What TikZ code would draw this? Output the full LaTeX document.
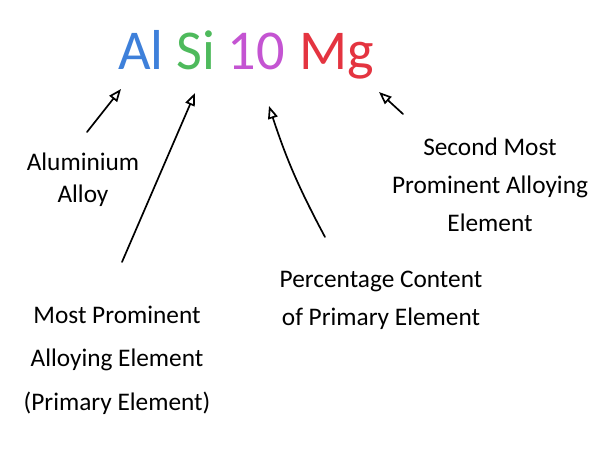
\documentclass[tikz,border=0pt]{standalone}
\usepackage{fontspec}
\setmainfont{Carlito}
\usetikzlibrary{arrows.meta}
\tikzset{>={Triangle[open,length=9pt,width=7pt]}}
\tikzset{
  title/.style={anchor=base,font=\fontsize{40}{40}\selectfont},
  lbl/.style={align=center,font=\fontsize{18}{#1}\selectfont},
  lbl/.default=27,
  pen/.style={->,line width=1.2pt,line cap=round}
}
\definecolor{alblue}{RGB}{62,128,218}
\definecolor{sigreen}{RGB}{78,186,92}
\definecolor{tenpink}{RGB}{196,84,210}
\definecolor{mgred}{RGB}{228,52,64}

\begin{document}
\begin{tikzpicture}[x=0.025cm,y=-0.025cm]
\useasboundingbox[fill=white] (0,0) rectangle (600,453);

\node[title,alblue] (al) at (141,70) {Al};
\node[title,sigreen] (si) at (196,70) {Si};
\node[title,tenpink] (ten) at (256,70) {10};
\node[title,mgred] (mg) at (337,70) {Mg};

\node[lbl=23] (alu) at (83,180) {Aluminium\\Alloy};
\node[lbl=31] (most) at (117,360) {Most Prominent\\Alloying Element\\(Primary Element)};
\node[lbl] (pct) at (381,300) {Percentage Content\\of Primary Element};
\node[lbl] (second) at (490,185) {Second Most\\Prominent Alloying\\Element};

\coordinate (alT) at (87,132);  \coordinate (alH) at (121,89);
\coordinate (siT) at (122,262); \coordinate (siH) at (195,93);
\coordinate (tenT) at (325,237); \coordinate (tenH) at (269,106);
\coordinate (mgT) at (403,114); \coordinate (mgH) at (379,92);

\draw[pen] (alT) -- (alH);
\draw[pen] (siT) -- (siH);
\draw[pen] (tenT) to[bend left=5] (tenH);
\draw[pen] (mgT) -- (mgH);
\end{tikzpicture}
\end{document}
